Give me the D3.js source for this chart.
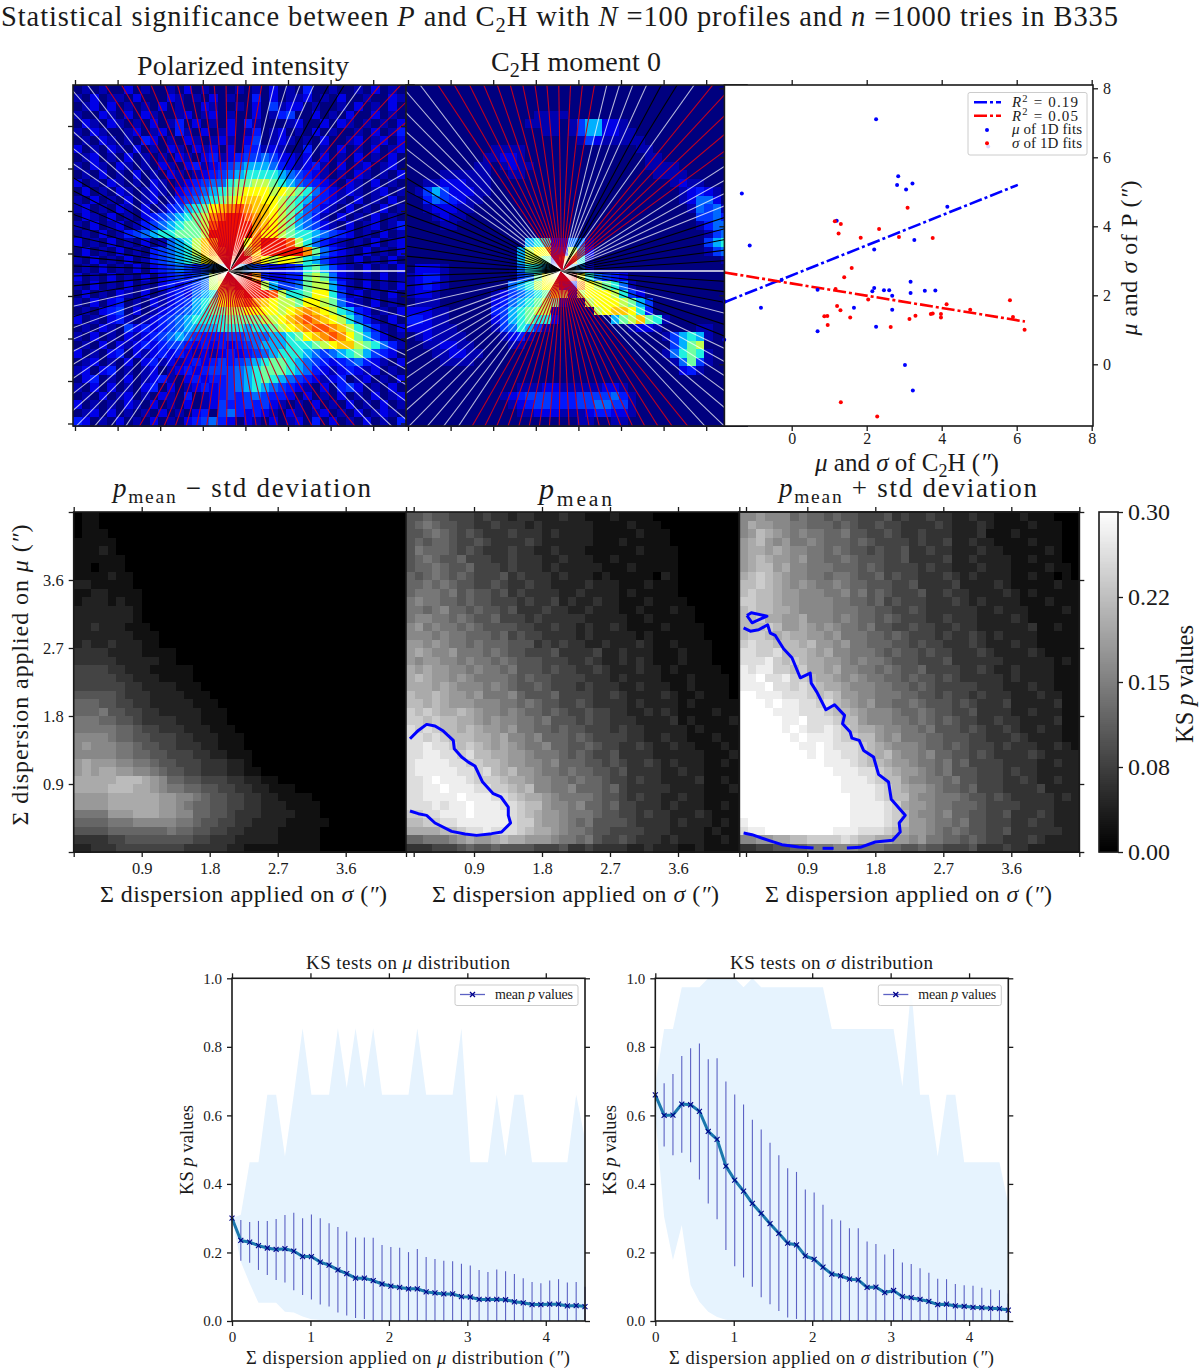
<!DOCTYPE html>
<html>
<head>
<meta charset="utf-8">
<script src="https://cdn.jsdelivr.net/npm/d3@7"></script>
<style>
  body { margin: 0; background: #fff; }
  svg { display: block; }
  text { font-family: "Liberation Serif", serif; fill: #1a1a1a; }
</style>
</head>
<body>
<svg id="chart" width="1200" height="1372"></svg>
<script>
// polarized intensity map, one hex digit per cell, 0 = navy, f = dark red
const polarizedMap = [
"0101002010 0102010001 0102010300 1001020100","1020110200 0210102010 0302011201 0200100210",
"0120201010 2010021001 0204122010 0102010201","1002102021 0012012010 0201340020 1020020100",
"0210210102 0130201020 3100012002 0210101020","1021001201 2031020120 1301201020 1001020132",
"0102101032 0102101210 2401210102 0012012020","2010210201 0210212020 3312100301 0201020120",
"0120102010 1021023123 4454221202 0102010202","1021021010 2102312345 6665321231 0201201201",
"0102010201 0210123456 7777654321 0102101020","2010210102 1012345578 8998765432 1021020101",
"0201021012 1023456789 aaa9a98753 2121012010","1020102012 013456789a bbaa987643 2102010201",
"1201021020 134678abcd cbba987542 1020102010","0210201023 456789cdee dcba986531 0201020102",
"1020120134 567889deee ecba986542 1020120130","0102013456 778889eeee ecaa987765 4320102010",
"2010201020 15679bceee aceeed9753 2101020120","0201020103 45679bcdee 9beeeeec85 3210201020",
"1020102013 45678abcde eca9aa9764 2102010201","0102010202 3454345656 5432234786 4210201020",
"2010201020 2343459bce ec32233898 5210102010","1020102010 2323459ace ee96445899 6310201020",
"0201021020 1232567abd eeed9778aa 7412010201","1020230102 1234678abc dcba998aa9 8521020102",
"0102340201 2345678899 aaaa9abcba 9763201020","2010231012 3456777788 8899abcdcb a975310201",
"0102104232 3456666777 67789abcdd cb97531020","1020102123 4565433344 5556678abc dca8642010",
"0102021232 3443232323 4566677789 abb9875310","2010230212 3232121232 3456777654 5678643201",
"0120102023 1212323434 5678876543 2345321020","1202301012 0123234445 6788876532 1232120102",
"0230102012 3102323345 6787654321 2301201020","1020201023 0201232345 6765432102 0342010201",
"0102012010 2103012343 4543320201 0201020120","2010102102 0102012433 4342101020 1020102012",
"0120201010 2010230453 2321021012 0102012102","3201020102 0102345320 2102012030 2010201032"];

// C2H moment 0 map, same coding
const c2hMap = [
"0000000000 0000000000 0000000000 0000000000","0000000000 0000000000 0000000000 0000000000",
"0000000000 0000000000 0000000000 0000000000","0000000000 0000011110 0000000000 0000000000",
"0000000000 0000111101 4662210000 0000000000","0000000000 0000001101 4662211000 0000000000",
"0000000000 0000000000 1421111100 0000000000","0000000000 1111000000 0000000110 0000000000",
"0000000001 1221000000 0000000011 0000000000","0000000011 0121100000 0000000011 1100000000",
"0000111111 0011000000 0000000001 1110000000","0011222111 0000000000 0000000000 0121100000",
"0146422211 0000000000 0000000000 0012321000","0035432110 0000000000 0000000000 0012552000",
"0012221100 0000000000 0000000000 0001545100","0001211000 0000000000 0000000000 0000445310",
"0000110000 0000000000 0000000000 0000135540","0000000000 0000000000 0000000000 0000014510",
"0000000000 0000677225 5100000000 0000046761","0000000000 00069aa339 6200000000 0000014563",
"0000000000 00069983bb 7100000000 0000000110","0222100000 0005776 4e6 5200000000 0000000000",
"1233100000 00045 8aaee a754320000 0000000000","1232100000 0056 79aa33 ca98751000 0000000000",
"1221000000 124567 8a91 9aaa974200 0000000000","0111000000 2356789810 09aaa98640 0000000000",
"2221100000 3467899100 009abba730 0000000000","3321100000 2467877200 0000689b87 1000000000",
"2221110000 1457641000 0000001221 0000110000","0121111000 0123100000 0000000000 1467610000",
"0011221100 0011000000 0000000000 0468900000","0001122110 0000000000 0000000000 1578710000",
"0000111100 0000000000 0000000000 0158410000","0000000000 0000000000 0000000000 0023100000",
"0000000000 0000000000 0000000000 0000000000","0000000000 0001112211 1112210000 0000000000",
"0000000000 0123444333 4444531000 0000000000","0000000000 0012344333 4455441000 0000000000",
"0000000000 0001122211 1233221000 0000000000","0000000000 0000000000 1100110000 0000000000"];

// KS p maps, one hex digit per cell, f = 0.30 or more
const pLowMap = [
"0110000000","0110000000","0111000000","1111100000","1112100000","1111110000","1101110000","1111211000",
"2211111000","1122111100","1222121100","2222222100","2222222100","2232221110","2222222111","2322322211",
"3333222211 1100000000","3333322222 1100000000","4444332221 1111000000","4444433222 1111000000",
"4444443322 2211100000","5555543332 2221110000","6665544332 2222111000","6667554433 2222211100",
"7776655433 3322211100","7777766544 3332221110","8888766554 4433222111","8988877655 4433322111",
"8888877665 5444332211 1000000000","9a99988776 5544433322 1000000000","9a9aa99887 6554433322 1100000000",
"aaaaabbba9 8665544433 2211000000","aaaabbbaa9 8776655443 3221110000","9999aaaaaa 9988765544 3322111100",
"9999aaaaaa 9987665544 3322211110","7777999aaa 9988665543 3322221110","6666777888 8877655443 3222211111",
"5555666666 6766554433 2222111110","3333445555 5555443332 2222111110","2233344444 4443333322 1111111110"];

const pMeanMap = [
"5565544434 3323322232 2111211110","5676554433 4333232222 2211112111","5567654543 3343332322 2211111211 1",
"5656654454 3333432222 2211121111 1","5766654543 3343322322 2111111211 11","5676556444 3343332232 2211211111 11",
"5667655644 4343332322 2221112111 11","6567656544 4534333232 2212111110 21","6676765544 5433433222 2322211121 11",
"6777675655 4534333322 3222212111 11","7877665655 4443433423 2232211121 111","7767866565 5453334332 2322211211 1211",
"7887767655 6444343333 3222221121 1111","8978776765 5554433433 2322321111 21111","8887877666 5645443333 2322222121 11111",
"9989877676 6655534343 3223222321 121111","9a98897776 7655444533 3342232221 112111","9899887877 6765554443 3432232321 1121110",
"a9a9988787 7675554544 3343222322 1211111","aba9989877 7765655444 4333232222 11121111","aaa9a98887 8765565444 3433322322 21121111",
"baaba99897 7786555644 4433432222 32112111","bbaba99988 8776765544 5433332322 221211111","cbcbaaba98 8787665654 4544332232 321111211",
"ccbcbbaa98 9887767555 4544333222 2312111121","dcdcbbaba9 9897766565 5444343322 2221211111","ddcdcbbbaa 9a88786665 6544443322 3221112111",
"ddeddcbcba 9a98778665 5654433432 2322111211","ddeeddcdbb aa99877765 6544533332 2222211121","deeeeddccb ba99887866 6554543343 2322211211",
"deeeeeddcd bab9987767 6655453333 2232211111","ddefeeedcc cbaa988776 7665443433 2222311211","ddeefeeedd ccbab88778 6665643333 3222211121",
"ddeeeefeee ddcbaa9877 7765543433 2232211111","dddedeefee eddcbb9887 8665644333 2322211211","ccddeeefee eedcba9987 7765544343 3222321111",
"bbccddeeee eedcca9987 6755554333 3232221211","aaaabbcdde dddcbaa987 7655444433 3222212111","6677789a99 abaa999877 6754454333 2322211211",
"3334445655 6555544453 3433332232 2211211111"];

const pHighMap = [
"8898886766 5655444534 3343322322 1112111000","8a99887766 6565445443 3334322232 1111211100","89ba987877 6675544543 3433322231 1121111100",
"9ab9897787 6665654444 3433422322 1111211100","9aa9a98877 6765545445 3343322232 2111112100","9aba998977 6676555445 3333422322 2211211100",
"9abb9a8877 7666565444 4343322232 2211112110","abcba98877 6776556454 4333432322 2211211010","bbcba98987 7876655544 5333342222 3211111211",
"bcbba99888 7786756544 4533433222 2321211111","ccbba99888 8776656454 4433343232 2221112111","bcbbaa9888 8777665544 5433333322 3222111121",
"bbcaa99a88 8787665654 4433433322 2232111111","bbbcb99a98 9877675544 5443343322 2222311211","bccbabaa99 8977766565 4443433432 3222211111",
"cdccbbbab9 9897766655 4544333432 2232211111","ddccdbbba9 a887776565 5454433343 2222321111","dddecbcbaa 9987877655 5444533333 3222222121",
"edeeccbcaa 9a88776765 5644443343 2232222111","eefddeccba a989877665 6554543333 3232222111","eeefddcdcb aa98887766 5654444433 3222322111",
"ffeeedddcb cb99887776 6554544343 3322232211","fffefeeddc dba9897766 7655545433 3422222311","ffffeeeddd cbba988876 6765544533 3322322211",
"fffffeefdd dcbb988877 6765654433 4332222311","fffffefedd edcbaa9887 7675554543 3432232211","ffffffefee edccbb9897 7766555443 3343222211",
"fffffffeef edddcba988 8766565444 3433322321","ffffffffef eeddcbab98 8786655454 3333432222","ffffffffff eeedcbba99 8776756444 4333322322",
"ffffffffff feeeddcba9 9876755544 4343322222","ffffffffff ffeeedcbb9 8877675544 4334322322","ffffffffff ffeeeedcba 9987665644 4333342222",
"ffffffffff fffeeedcbb 9887776554 5433333232","ffffffffff fffeeeedca 9987766654 4443333222","ffffffffff fffeeeedcb 9887866554 4533343222",
"efffffffff fffeeeedcb 9987767554 4433433222","deefffffff feeedddcba 9987676554 4533333322","8899aabbcc ccdcbbaa99 8977665654 4333432222",
"3344556677 7888777665 5655444533 3433222222"];

// colour of each of the 100 radial profiles, counter clockwise from east
const rayRuns = [["W",1],["K",5],["W",4],["R",5],["W",1],["K",2],["W",4],["R",13],["W",6],["K",12],
  ["W",1],["K",1],["W",11],["R",20],["W",7],["K",2],["W",1],["K",3],["W",1]];

// scatter panel
const muC2H = [2.25,2.84,2.81,3.05,3.22,4.15,-1.33,-1.12,1.20,3.27,2.20,-0.27,0.69,-0.82,1.66,2.15,2.20,2.46,2.60,2.68,2.68,3.17,3.17,3.55,3.83,0.69,2.25,3.02,3.23,-1.80,-1.78,5.24];
const muP = [7.10,5.45,5.20,5.07,5.24,4.57,4.95,3.44,4.16,3.60,3.33,2.44,2.16,1.64,1.64,2.12,2.21,2.15,2.15,1.99,1.58,2.39,2.07,2.13,2.14,0.96,1.09,-0.02,-0.76,0.71,1.82,6.31];
const sigmaC2H = [3.09,1.15,1.31,1.25,2.33,1.84,2.86,3.76,1.60,1.40,1.17,2.04,1.21,1.30,0.87,0.95,1.56,0.96,2.64,3.14,3.30,3.71,3.76,3.98,3.98,4.13,4.76,5.82,5.90,6.21,1.31,2.28];
const sigmaP = [4.54,4.15,4.07,3.79,3.92,3.67,3.69,3.66,2.79,2.52,2.18,1.88,1.69,1.57,1.39,1.40,1.36,1.14,1.08,1.31,1.41,1.46,1.47,1.46,1.36,1.74,1.58,1.86,1.37,1.00,-1.10,-1.51];
const muFit = [[-1.79,1.80],[6.03,5.20]];
const sigmaFit = [[-1.79,2.66],[6.22,1.24]];

// significance contours, [sigma dispersion, mu dispersion]
const contourMean = [[[.053,1.499],[.163,1.609],[.273,1.689],[.384,1.667],[.494,1.601],[.626,1.477],[.639,1.367],[.736,1.257],[.825,1.190],[.913,1.138],[1.014,.926],[1.155,.772],[1.257,.728],[1.354,.595],[1.354,.485],[1.384,.384],[1.265,.265],[1.133,.243],[.935,.220],[.780,.238],[.604,.273],[.384,.384],[.273,.485],[.163,.507],[.053,.542]]];
const contourHigh = [
  [[.101,3.13],[.159,3.166],[.366,3.122],[.168,3.034],[.101,3.13]],
  [[.057,2.967],[.146,2.923],[.256,2.941],[.375,3.007],[.410,2.897],[.476,2.866],[.586,2.690],[.697,2.571],[.807,2.306],[.939,2.368],[.952,2.235],[1.027,2.116],[1.146,1.883],[1.261,1.949],[1.393,1.808],[1.367,1.698],[1.468,1.587],[1.490,1.508],[1.587,1.477],[1.645,1.345],[1.777,1.257],[1.843,1.027],[1.975,.926],[2.011,.697],[2.196,.485],[2.116,.384],[2.130,.265],[2.028,.154],[1.799,.132],[1.601,.062],[1.424,.053]],
  [[1.248,.049],[1.102,.049]],
  [[.983,.053],[.785,.066],[.564,.097],[.388,.154],[.168,.229],[.057,.251]]];

// KS tests on mu distribution
const muMean = [.30,.235,.23,.22,.213,.209,.211,.204,.188,.188,.172,.163,.149,.138,.125,.125,.118,.108,.102,.098,.094,.094,.085,.082,.079,.079,.071,.07,.063,.063,.063,.062,.056,.053,.048,.048,.049,.049,.044,.045,.042];
const muUpper = [.30,.295,.289,.292,.292,.298,.309,.316,.30,.311,.30,.285,.274,.261,.244,.244,.243,.222,.216,.214,.201,.21,.187,.181,.176,.174,.167,.162,.149,.143,.15,.145,.137,.125,.114,.11,.118,.122,.112,.114,.10];
const muLower = [.30,.176,.17,.149,.134,.12,.112,.09,.076,.063,.048,.042,.025,.016,.009,.006,0,0,0,0,0,0,0,0,0,0,0,0,0,0,0,0,0,0,0,0,0,0,0,0,0];
const muBandTop = [.30,.31,.463,.463,.66,.66,.48,.66,.854,.66,.66,.66,.854,.68,.854,.68,.854,.66,.66,.66,.66,.854,.66,.66,.66,.66,.854,.463,.463,.463,.66,.48,.66,.66,.463,.463,.463,.463,.463,.66,.53];
const muBandBottom = [.30,.173,.11,.053,.053,.053,.027,.025,.013,.005,.003,.002,.001,0,0,0,0,0,0,0,0,0,0,0,0,0,0,0,0,0,0,0,0,0,0,0,0,0,0,0,0];

// KS tests on sigma distribution
const sigmaMean = [.66,.60,.601,.633,.631,.612,.553,.53,.452,.411,.379,.343,.314,.284,.256,.227,.222,.19,.18,.157,.137,.132,.122,.12,.098,.099,.083,.089,.071,.068,.063,.057,.048,.049,.044,.043,.04,.039,.037,.036,.032];
const sigmaUpper = [.66,.694,.721,.773,.796,.81,.764,.767,.699,.661,.632,.587,.559,.52,.484,.446,.435,.384,.375,.339,.297,.293,.271,.271,.232,.225,.194,.21,.171,.166,.154,.141,.123,.122,.108,.104,.103,.097,.092,.09,.08];
const sigmaLower = [.66,.509,.484,.491,.463,.413,.343,.297,.207,.16,.127,.10,.069,.049,.029,.01,.006,0,0,0,0,0,0,0,0,0,0,0,0,0,0,0,0,0,0,0,0,0,0,0,0];
const sigmaBandTop = [.69,.852,.852,.974,.974,.974,1,1,1,1,.974,1,.974,.974,.974,.974,.974,.974,.974,.974,.852,.852,.852,.852,.852,.852,.852,.852,.684,.975,.66,.66,.48,.66,.66,.463,.463,.463,.463,.463,.34];
const sigmaBandBottom = [.60,.304,.178,.28,.105,.056,.027,.012,.004,0,0,0,0,0,0,0,0,0,0,0,0,0,0,0,0,0,0,0,0,0,0,0,0,0,0,0,0,0,0,0,0];

const pTicks = [0, .075, .15, .225, .30];
const pTickLabels = ["0.00","0.08","0.15","0.22","0.30"];
const dispersionTicks = [0, .9, 1.8, 2.7, 3.6, 4.5];
const dispersionLabels = ["","0.9","1.8","2.7","3.6",""];
const jetColors = ["#00007f","#0000b0","#0000e8","#0018ff","#0038ff","#0068ff","#00b0ff","#20f0e0",
  "#70ffa0","#c0ff50","#ffff00","#ffc800","#ff9000","#ff5000","#f01000","#a00000"];

const ink = "#1a1a1a";
const svg = d3.select("#chart");

// small latex like markup: *italic*, _{sub}, ^{sup}
function tex(sel, x, y, str, size, len, rot) {
  const t = sel.append("text").attr("font-size", size);
  if (rot) t.attr("transform", `translate(${x},${y}) rotate(${rot})`).attr("text-anchor", "middle");
  else t.attr("x", x).attr("y", y);
  if (len) t.attr("textLength", len).attr("lengthAdjust", "spacing");
  let shift = 0;
  str.split(/(\*[^*]+\*|_\{[^}]+\}|\^\{[^}]+\})/).filter(s => s).forEach(s => {
    const ts = t.append("tspan");
    let dy = -shift;
    shift = 0;
    if (s[0] === "*") { ts.attr("font-style", "italic").text(s.slice(1, -1)); }
    else if (s[0] === "_") { shift = size * .22; dy += shift; ts.attr("font-size", size * .72).text(s.slice(2, -1)); }
    else if (s[0] === "^") { shift = -size * .35; dy += shift; ts.attr("font-size", size * .7).text(s.slice(2, -1)); }
    else ts.text(s);
    if (dy) ts.attr("dy", dy);
  });
  return t;
}

function drawAxis(gen, scale, vals, tx, ty, labels, size, pad) {
  const a = gen(scale).tickValues(vals).tickSizeInner(5).tickSizeOuter(0).tickPadding(pad === undefined ? 5 : pad)
    .tickFormat((d, i) => labels ? labels[i] : "");
  const g = svg.append("g").attr("transform", `translate(${tx},${ty})`).call(a);
  g.select(".domain").remove();
  g.selectAll("line").attr("stroke", ink).attr("stroke-width", 1.3);
  g.selectAll("text").attr("font-size", size || 16).attr("fill", ink).style("font-family", '"Liberation Serif", serif');
  return g;
}

function frame(x0, x1, y0, y1) {
  svg.append("rect").attr("x", x0).attr("y", y0).attr("width", x1 - x0).attr("height", y1 - y0)
    .attr("fill", "none").attr("stroke", ink).attr("stroke-width", 1.6);
}

function digits(rows) {
  return rows.map(r => r.replace(/ /g, "").padEnd(40, "0").split("").map(c => parseInt(c, 16)));
}

function heat(rows, x0, y0, w, h, color) {
  const bx = d3.scaleBand().domain(d3.range(40)).range([x0, x0 + w]);
  const by = d3.scaleBand().domain(d3.range(40)).range([y0, y0 + h]);
  const cells = digits(rows).flatMap((r, j) => r.map((v, i) => ({ i, j, v })));
  svg.append("g").attr("shape-rendering", "crispEdges").selectAll("rect").data(cells).join("rect")
    .attr("x", d => bx(d.i)).attr("y", d => by(d.j))
    .attr("width", bx.bandwidth() + .5).attr("height", by.bandwidth() + .5)
    .attr("fill", d => color(d.v));
}

// ---------- top row, maps with radial profiles
const jet = d3.scaleLinear().domain(d3.range(16)).range(jetColors);
const rayColor = { W: "rgba(255,255,255,0.72)", K: "#000", R: "#c4001e" };
const rayKinds = rayRuns.flatMap(([k, n]) => d3.range(n).map(() => k));
const rayAngle = d3.scaleLinear().domain([0, 99]).range([0, 2 * Math.PI]);

function rayPanel(id, rows, x0, w, cx, cy) {
  const y0 = 85, h = 341;
  heat(rows, x0, y0, w, h, jet);
  svg.append("clipPath").attr("id", id).append("rect").attr("x", x0).attr("y", y0).attr("width", w).attr("height", h);
  svg.append("g").attr("clip-path", `url(#${id})`).selectAll("line").data(rayKinds).join("line")
    .attr("x1", cx).attr("y1", cy)
    .attr("x2", (d, k) => cx + 330 * Math.cos(rayAngle(k)))
    .attr("y2", (d, k) => cy - 330 * Math.sin(rayAngle(k)))
    .attr("stroke", d => rayColor[d]).attr("stroke-width", (d, k) => k === 0 ? 1.4 : 1.05);
  frame(x0, x0 + w, y0, y0 + h);
  const sx = d3.scaleLinear().domain([0, 1]).range([x0 + 2, x0 + 44.6]);
  const sy = d3.scaleLinear().domain([0, 1]).range([126, 168.5]);
  const vx = d3.range(8), vy = d3.range(8);
  drawAxis(d3.axisBottom, sx, vx, 0, y0 + h);
  drawAxis(d3.axisTop, sx, vx, 0, y0);
  drawAxis(d3.axisLeft, sy, vy, x0, 0);
}
rayPanel("clipP", polarizedMap, 73, 341, 229, 271);
rayPanel("clipC", c2hMap, 406, 341, 561.7, 271);

// ---------- scatter
const sx = d3.scaleLinear().domain([0, 8]).range([791.7, 1091.7]);
const sy = d3.scaleLinear().domain([0, 8]).range([364.3, 88.3]);
svg.append("rect").attr("x", 724.4).attr("y", 85).attr("width", 368.6).attr("height", 341).attr("fill", "#fff");
const fitLine = d3.line().x(d => sx(d[0])).y(d => sy(d[1]));
[[muFit, "#0000ff"], [sigmaFit, "#ff0000"]].forEach(([d, c]) => {
  svg.append("path").attr("d", fitLine(d)).attr("fill", "none").attr("stroke", c)
    .attr("stroke-width", 2.6).attr("stroke-dasharray", "13,3,3,3");
});
svg.append("g").selectAll("circle").data(d3.zip(muC2H, muP)).join("circle")
  .attr("cx", d => sx(d[0])).attr("cy", d => sy(d[1])).attr("r", 2).attr("fill", "#0000ff");
svg.append("g").selectAll("circle").data(d3.zip(sigmaC2H, sigmaP)).join("circle")
  .attr("cx", d => sx(d[0])).attr("cy", d => sy(d[1])).attr("r", 2).attr("fill", "#ff0000");
frame(724.4, 1093, 85, 426);
const scatterTicks = [0, 2, 4, 6, 8];
drawAxis(d3.axisBottom, sx, scatterTicks, 0, 426, scatterTicks, 16, 2);
drawAxis(d3.axisTop, sx, scatterTicks, 0, 85);
drawAxis(d3.axisRight, sy, scatterTicks, 1093, 0, scatterTicks, 16);
drawAxis(d3.axisLeft, sy, scatterTicks, 724.4, 0);

svg.append("rect").attr("x", 968).attr("y", 92.5).attr("width", 119).attr("height", 62.5).attr("rx", 2)
  .attr("fill", "rgba(255,255,255,0.85)").attr("stroke", "#ccc").attr("stroke-width", 1);
[[102.3, "#0000ff"], [115.7, "#ff0000"]].forEach(([y, c]) => {
  svg.append("line").attr("x1", 974).attr("x2", 1001).attr("y1", y).attr("y2", y)
    .attr("stroke", c).attr("stroke-width", 2.6).attr("stroke-dasharray", "13,3,3,3");
});
[[130, "#0000ff"], [143.3, "#ff0000"]].forEach(([y, c]) => {
  svg.append("circle").attr("cx", 987).attr("cy", y).attr("r", 2).attr("fill", c);
});
tex(svg, 1012, 107, "*R*^{2}  = 0.19", 15, 66);
tex(svg, 1012, 120.5, "*R*^{2}  = 0.05", 15, 66);
tex(svg, 1012, 134, "*μ* of 1D fits", 15, 70);
tex(svg, 1012, 147.5, "*σ* of 1D fits", 15, 70);

// ---------- middle row, p value maps
const gray = d3.scaleLinear().domain([0, .30]).range(["#000", "#fff"]).clamp(true);
const digitToP = d => d / 15 * .30;
const dy = d3.scaleLinear().domain([0, 4.5]).range([852, 512]);
const contourLine = d3.line();

function pPanel(rows, x0, contours) {
  heat(rows, x0, 512, 340, 340, d => gray(digitToP(d)));
  const dx = d3.scaleLinear().domain([0, 4.5]).range([x0, x0 + 340]);
  (contours || []).forEach(c => {
    svg.append("path").attr("d", contourLine.x(d => dx(d[0])).y(d => dy(d[1]))(c))
      .attr("fill", "none").attr("stroke", "#0000ff").attr("stroke-width", 3).attr("stroke-linejoin", "round");
  });
  frame(x0, x0 + 340, 512, 852);
  drawAxis(d3.axisBottom, dx, dispersionTicks, 0, 852, dispersionLabels, 16.5);
  drawAxis(d3.axisTop, dx, dispersionTicks, 0, 512);
}
pPanel(pLowMap, 73.7);
pPanel(pMeanMap, 406, contourMean);
pPanel(pHighMap, 739.3, contourHigh);
frame(739.3, 1079.3, 512, 852);
drawAxis(d3.axisLeft, dy, dispersionTicks, 73.7, 0, dispersionLabels, 16.5);
drawAxis(d3.axisRight, dy, dispersionTicks, 1079.3, 0);

// colour bar
const cb = d3.scaleLinear().domain([0, .30]).range([852, 512]);
svg.append("g").selectAll("rect").data(d3.range(0, .30, .30 / 170)).join("rect")
  .attr("x", 1099).attr("width", 19).attr("y", d => cb(d) - 2).attr("height", 2.4).attr("fill", d => gray(d));
frame(1099, 1118, 512, 852);
drawAxis(d3.axisRight, cb, pTicks, 1118, 0, pTickLabels, 24);

// ---------- bottom row
const dispersion = d3.range(41).map(i => i * .1125);

function ksPanel(x0, mean, upper, lower, bandTop, bandBottom) {
  const x = d3.scaleLinear().domain([0, 4.5]).range([x0, x0 + 353]);
  const y = d3.scaleLinear().domain([0, 1]).range([1321, 978.3]);
  const yTicks = [0, .2, .4, .6, .8, 1];
  const area = d3.area().x((d, i) => x(dispersion[i])).y0((d, i) => y(bandBottom[i])).y1(d => y(d));
  svg.append("path").attr("d", area(bandTop)).attr("fill", "#e6f3fe");
  svg.append("g").selectAll("line").data(dispersion).join("line")
    .attr("x1", d => x(d)).attr("x2", d => x(d))
    .attr("y1", (d, i) => y(lower[i])).attr("y2", (d, i) => y(upper[i]))
    .attr("stroke", "#5c62c4").attr("stroke-width", 1.1);
  svg.append("path").attr("d", d3.line().x((d, i) => x(dispersion[i])).y(d => y(d))(mean))
    .attr("fill", "none").attr("stroke", "#1b78ad").attr("stroke-width", 3);
  svg.append("g").selectAll("path").data(mean).join("path")
    .attr("d", d3.symbol(d3.symbolX, 18))
    .attr("transform", (d, i) => `translate(${x(dispersion[i])},${y(d)})`)
    .attr("fill", "none").attr("stroke", "#00008b").attr("stroke-width", 1.1);
  frame(x0, x0 + 353, 978.3, 1321);
  drawAxis(d3.axisBottom, x, [0, 1, 2, 3, 4], 0, 1321, [0, 1, 2, 3, 4], 15);
  drawAxis(d3.axisTop, x, [0, 1, 2, 3, 4], 0, 978.3);
  drawAxis(d3.axisLeft, y, yTicks, x0, 0, yTicks.map(d => d.toFixed(1)), 15);
  drawAxis(d3.axisRight, y, yTicks, x0 + 353, 0);
  // legend
  svg.append("rect").attr("x", x0 + 223).attr("y", 985).attr("width", 123).attr("height", 20.5).attr("rx", 2)
    .attr("fill", "rgba(255,255,255,0.85)").attr("stroke", "#ccc");
  svg.append("line").attr("x1", x0 + 228).attr("x2", x0 + 253).attr("y1", 994.5).attr("y2", 994.5)
    .attr("stroke", "#5c62c4").attr("stroke-width", 1.3);
  svg.append("path").attr("d", d3.symbol(d3.symbolX, 18)).attr("transform", `translate(${x0 + 240.5},994.5)`)
    .attr("fill", "none").attr("stroke", "#00008b").attr("stroke-width", 1.3);
  tex(svg, x0 + 263, 999, "mean *p* values", 14, 78);
}
ksPanel(232, muMean, muUpper, muLower, muBandTop, muBandBottom);
ksPanel(655.3, sigmaMean, sigmaUpper, sigmaLower, sigmaBandTop, sigmaBandBottom);

// ---------- texts
tex(svg, 1, 25.5, "Statistical significance between *P* and C_{2}H with *N* =100  profiles and *n* =1000 tries in B335", 28.5, 1117);
tex(svg, 137, 75, "Polarized intensity", 28, 212);
tex(svg, 491, 71, "C_{2}H moment 0", 28, 170);
tex(svg, 815, 471, "*μ* and *σ* of C_{2}H (*″*)", 25);
tex(svg, 1137, 258, "*μ* and *σ* of P (*″*)", 24, 155, -90);

tex(svg, 113, 497, "*p*_{mean} − std deviation", 27, 258);
tex(svg, 539, 499, "*p*_{mean}", 30, 73);
tex(svg, 779, 497, "*p*_{mean} + std deviation", 27, 258);
[100, 432, 765].forEach(x => tex(svg, x, 902, "Σ dispersion applied on *σ* (*″*)", 24, 287));
tex(svg, 28, 675, "Σ dispersion applied on *μ* (*″*)", 24, 301, -90);
tex(svg, 1193, 684, "KS *p* values", 24.5, 118, -90);

tex(svg, 306, 969, "KS tests on *μ* distribution", 19, 204);
tex(svg, 730, 969, "KS tests on *σ* distribution", 19, 203);
tex(svg, 193, 1150, "KS *p* values", 18.5, 90, -90);
tex(svg, 616, 1150, "KS *p* values", 18.5, 90, -90);
tex(svg, 246, 1364, "Σ dispersion applied on *μ* distribution (*″*)", 18.5, 324);
tex(svg, 669, 1364, "Σ dispersion applied on *σ* distribution (*″*)", 18.5, 325);
</script>
</body>
</html>
